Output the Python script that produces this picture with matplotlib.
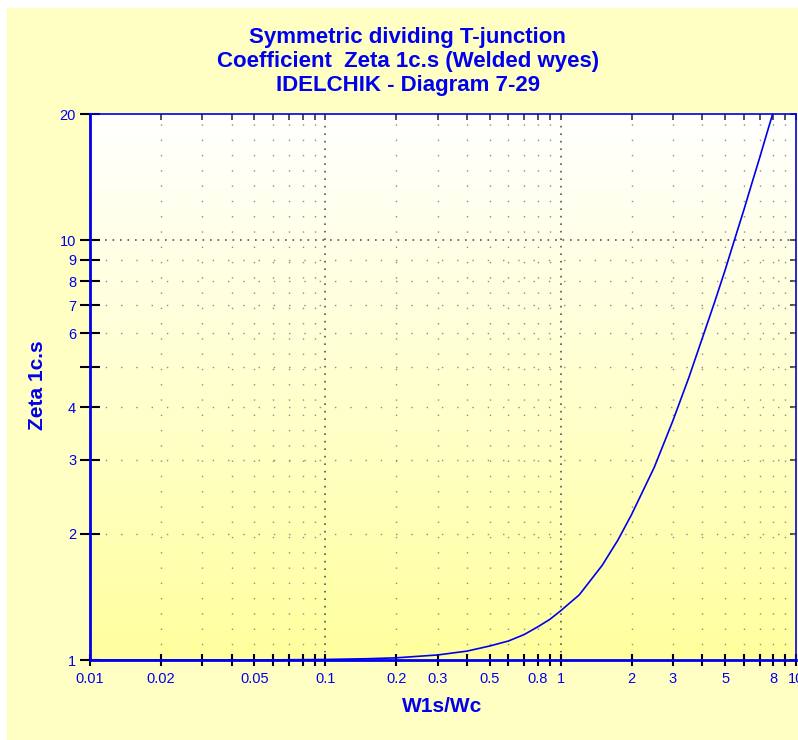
import numpy as np
import matplotlib
matplotlib.use("Agg")
import matplotlib.pyplot as plt
from matplotlib.colors import LinearSegmentedColormap

plt.rcParams['font.family'] = ['Liberation Sans', 'DejaVu Sans']

# curve
ratio = [0.01, 0.05, 0.1, 0.15, 0.2, 0.3, 0.4, 0.5, 0.6, 0.7, 0.8, 0.9, 1.0,
         1.2, 1.5, 1.75, 2.0, 2.5, 3.0, 3.5, 4.0, 4.5, 5.0, 5.5, 6.0, 6.5,
         7.0, 7.5, 8.0]
zeta = [1.0, 1.0, 1.003, 1.007, 1.012, 1.028, 1.05, 1.08, 1.11, 1.15, 1.2,
        1.25, 1.31, 1.43, 1.68, 1.93, 2.22, 2.88, 3.72, 4.7, 5.85, 7.1, 8.5,
        10.1, 11.8, 13.7, 15.7, 17.9, 20.2]

x_ticks = [0.01, 0.02, 0.03, 0.04, 0.05, 0.06, 0.07, 0.08, 0.09,
           0.1, 0.2, 0.3, 0.4, 0.5, 0.6, 0.7, 0.8, 0.9,
           1, 2, 3, 4, 5, 6, 7, 8, 9, 10]
x_labels = {0.01: '0.01', 0.02: '0.02', 0.05: '0.05', 0.1: '0.1', 0.2: '0.2',
            0.3: '0.3', 0.5: '0.5', 0.8: '0.8', 1: '1', 2: '2', 3: '3',
            5: '5', 8: '8', 10: '10'}
y_ticks = [1, 2, 3, 4, 5, 6, 7, 8, 9, 10, 20]
y_labels = {1: '1', 2: '2', 3: '3', 4: '4', 6: '6', 7: '7', 8: '8',
            9: '9', 10: '10', 20: '20'}
x_major_grid = [0.1, 1]
y_major_grid = [10]

blue = '#0000ee'
dark = '#333333'

fig = plt.figure(figsize=(7.98, 7.4), dpi=100)
fig.patch.set_facecolor('white')
# yellow panel
fig.patches.append(plt.Rectangle((7 / 798, 0), 1, 1 - 8 / 740, transform=fig.transFigure,
                                 facecolor='#ffffc4', edgecolor='none', zorder=-10))

ax = fig.add_axes([90 / 798, 80 / 740, 706 / 798, 546 / 740])
ax.set_xscale('log')
ax.set_yscale('log')
ax.set_xlim(0.01, 10)
ax.set_ylim(1, 20)

# white to yellow gradient
cmap = LinearSegmentedColormap.from_list('wy', ['#ffff9e', '#ffffff'])
grad = np.linspace(0, 1, 256).reshape(-1, 1)
ax.imshow(grad, cmap=cmap, aspect='auto', extent=[0, 1, 0, 1], origin='lower',
          transform=ax.transAxes, zorder=0)

# grid lines
for xv in x_ticks[1:-1]:
    if xv in x_major_grid:
        ax.axvline(xv, color='#555555', lw=1.2, ls=(0, (1, 3.5)), zorder=1)
    else:
        ax.axvline(xv, color='#8c8c8c', lw=1.0, ls=(0, (1, 10)), zorder=1)
for yv in y_ticks[1:-1]:
    if yv in y_major_grid:
        ax.axhline(yv, color='#555555', lw=1.2, ls=(0, (1, 3.5)), zorder=1)
    else:
        ax.axhline(yv, color='#8c8c8c', lw=1.0, ls=(0, (1, 10)), zorder=1)

ax.plot(ratio, zeta, color=blue, lw=1.2, zorder=3)

ax.xaxis.set_major_locator(matplotlib.ticker.FixedLocator(x_ticks))
ax.xaxis.set_minor_locator(matplotlib.ticker.NullLocator())
ax.set_xticklabels([x_labels.get(v, '') for v in x_ticks])
ax.yaxis.set_major_locator(matplotlib.ticker.FixedLocator(y_ticks))
ax.yaxis.set_minor_locator(matplotlib.ticker.NullLocator())
ax.set_yticklabels([y_labels.get(v, '') for v in y_ticks])

ax.tick_params(axis='x', direction='inout', length=9, width=1.5, labelsize=10.5,
               labelcolor=blue, pad=4)
ax.tick_params(axis='y', direction='inout', length=14, width=1.5, labelsize=10.5,
               labelcolor=blue, pad=3)
for t, v in zip(ax.xaxis.get_major_ticks(), x_ticks):
    t.tick1line.set_color(blue if v in x_labels else dark)
for t, v in zip(ax.yaxis.get_major_ticks(), y_ticks):
    t.tick1line.set_color(blue if v in y_labels else dark)

# small inner ticks on top and right
top = ax.secondary_xaxis('top')
top.xaxis.set_major_locator(matplotlib.ticker.FixedLocator(x_ticks))
top.xaxis.set_minor_locator(matplotlib.ticker.NullLocator())
top.tick_params(direction='in', length=4, width=1.2, color=dark, labeltop=False)
top.spines['top'].set_visible(False)
right = ax.secondary_yaxis('right')
right.yaxis.set_major_locator(matplotlib.ticker.FixedLocator(y_ticks))
right.yaxis.set_minor_locator(matplotlib.ticker.NullLocator())
right.tick_params(direction='in', length=4, width=1.2, color=dark, labelright=False)
right.spines['right'].set_visible(False)

for side in ['left', 'bottom']:
    ax.spines[side].set_color(blue)
    ax.spines[side].set_linewidth(2)
for side in ['top', 'right']:
    ax.spines[side].set_color(blue)
    ax.spines[side].set_linewidth(1.2)

ax.set_xlabel('W1s/Wc', color=blue, fontsize=15, fontweight='bold')
ax.xaxis.set_label_coords(0.4986, -0.086)
ax.xaxis.label.set_va('center')
ax.set_ylabel('Zeta 1c.s', color=blue, fontsize=15, fontweight='bold')
ax.yaxis.set_label_coords(-0.0737, 0.504)
ax.yaxis.label.set_va('center')

titles = ['Symmetric dividing T-junction',
          'Coefficient  Zeta 1c.s (Welded wyes)',
          'IDELCHIK - Diagram 7-29']
for i, line in enumerate(titles):
    fig.text(0.511, 1 - (38 + 23.5 * i) / 740, line, color=blue,
             fontsize=16, fontweight='bold', ha='center', va='center')

fig.savefig('out.png', dpi=100)
